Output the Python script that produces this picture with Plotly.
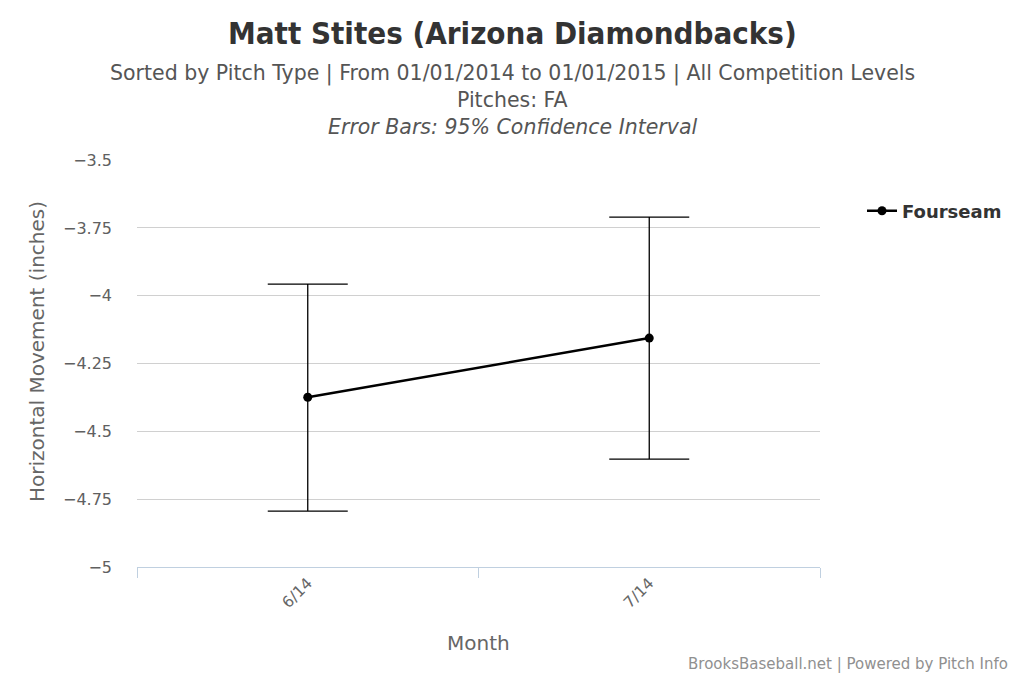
import plotly.graph_objects as go

months = ["6/14", "7/14"]
fourseam = [-4.374, -4.156]
ci_high = [-3.957, -3.71]
ci_low = [-4.794, -4.602]
y_ticks = [-5, -4.75, -4.5, -4.25, -4, -3.75, -3.5]
y_tick_labels = ["\u22125", "\u22124.75", "\u22124.5", "\u22124.25", "\u22124", "\u22123.75", "\u22123.5"]

FONT = "DejaVu Sans"
FONT_C = "DejaVu Sans Condensed, DejaVu Sans"

# page body has an 8px margin: work in figure coordinates (page - 8)
OFF = 8
W, H = 1024 - OFF, 682 - OFF - 8
L, R, T, B = 137 - OFF, 820 - OFF, 160 - OFF, 567 - OFF

def px(x):
    return (x - OFF - L) / (R - L)

def py(y):
    return (B - (y - OFF)) / (B - T)

err_plus = [h - v for h, v in zip(ci_high, fourseam)]
err_minus = [v - l for v, l in zip(fourseam, ci_low)]

fig = go.Figure()
fig.add_trace(go.Scatter(
    x=months, y=fourseam, mode="lines+markers", name="Fourseam",
    line=dict(color="black", width=2.5),
    marker=dict(color="black", size=9),
    error_y=dict(type="data", symmetric=False, array=err_plus, arrayminus=err_minus,
                 color="black", thickness=1.3, width=40),
))

fig.update_layout(
    width=W, height=H,
    paper_bgcolor="white", plot_bgcolor="white",
    margin=dict(l=L, r=W - R, t=T, b=H - B, autoexpand=False),
    font=dict(family=FONT, color="#666666"),
    showlegend=True,
    legend=dict(x=px(862), y=py(211), xanchor="left", yanchor="middle",
                font=dict(family=FONT, size=18, color="#333333", weight="bold"),
                bgcolor="rgba(0,0,0,0)"),
    xaxis=dict(
        type="category", range=[-0.5, 1.5], tickson="boundaries",
        showgrid=False, showline=True, linecolor="#C0D0E0", linewidth=1,
        ticks="outside", ticklen=10, tickcolor="#C0D0E0",
        tickangle=-45, tickfont=dict(family=FONT, size=15.5, color="#666666"),
        zeroline=False,
    ),
    yaxis=dict(
        range=[-5, -3.4995], tickvals=y_ticks, ticktext=y_tick_labels,
        showgrid=True, gridcolor="#D0D0D0", gridwidth=1,
        showline=False, zeroline=False, ticks="", ticklabelstandoff=24,
        tickfont=dict(family=FONT, size=16, color="#606060"),
    ),
)

anns = [
    dict(text="<b>Matt Stites (Arizona Diamondbacks)</b>", y=33, size=31, color="#333333", font=FONT_C),
    dict(text="Sorted by Pitch Type | From 01/01/2014 to 01/01/2015 | All Competition Levels", y=73, size=20.5, color="#555555", font=FONT),
    dict(text="Pitches: FA", y=100, size=20.5, color="#555555", font=FONT),
    dict(text="<i>Error Bars: 95% Confidence Interval</i>", y=127, size=20.5, color="#555555", font=FONT),
]
for a in anns:
    fig.add_annotation(text=a["text"], x=px(512), y=py(a["y"]), xref="paper", yref="paper",
                       showarrow=False, xanchor="center", yanchor="middle",
                       font=dict(family=a["font"], size=a["size"], color=a["color"]))

fig.add_annotation(text="Horizontal Movement (inches)", textangle=-90,
                   x=px(37), y=py(352), xref="paper", yref="paper",
                   showarrow=False, xanchor="center", yanchor="middle",
                   font=dict(family=FONT, size=20, color="#666666"))
fig.add_annotation(text="Month", x=px(478), y=py(643), xref="paper", yref="paper",
                   showarrow=False, xanchor="center", yanchor="middle",
                   font=dict(family=FONT, size=20, color="#666666"))
fig.add_annotation(text="BrooksBaseball.net | Powered by Pitch Info",
                   x=px(1010), y=py(664), xref="paper", yref="paper",
                   showarrow=False, xanchor="right", yanchor="middle",
                   font=dict(family=FONT, size=15, color="#909090"))

fig.write_html("out.html")
